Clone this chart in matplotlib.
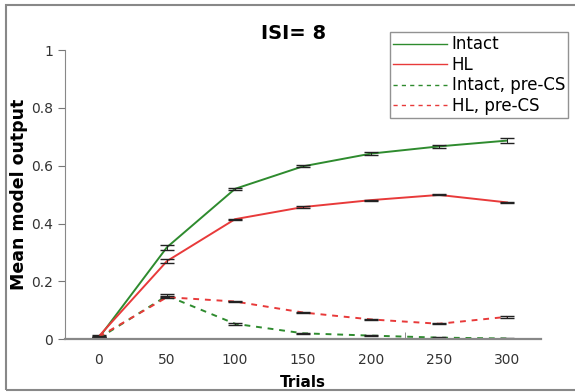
import numpy as np
import matplotlib
matplotlib.use("Agg")
import matplotlib.pyplot as plt
from matplotlib.patches import Rectangle

trials = [0, 50, 100, 150, 200, 250, 300]

intact = [0.005, 0.318, 0.520, 0.598, 0.642, 0.667, 0.687]
intact_err = [0.003, 0.008, 0.004, 0.004, 0.006, 0.006, 0.010]
hl = [0.010, 0.270, 0.415, 0.457, 0.481, 0.499, 0.473]
hl_err = [0.003, 0.008, 0.002, 0.002, 0.002, 0.002, 0.003]
intact_pre = [0.003, 0.150, 0.053, 0.020, 0.012, 0.005, 0.002]
intact_pre_err = [0.002, 0.006, 0.003, 0.002, 0.002, 0.002, 0.002]
hl_pre = [0.008, 0.145, 0.130, 0.092, 0.068, 0.053, 0.077]
hl_pre_err = [0.002, 0.004, 0.002, 0.002, 0.002, 0.002, 0.003]

green = "#2e8b2e"
red = "#e83a3a"

fig = plt.figure(figsize=(5.75, 3.92), dpi=100)
ax = fig.add_axes([0.113, 0.135, 0.828, 0.737])

x = np.arange(len(trials))
series = [
    (intact, intact_err, green, "-", "Intact"),
    (hl, hl_err, red, "-", "HL"),
    (intact_pre, intact_pre_err, green, (0, (3, 3)), "Intact, pre-CS"),
    (hl_pre, hl_pre_err, red, (0, (3, 3)), "HL, pre-CS"),
]
for vals, err, col, ls, lab in series:
    ax.plot(x, vals, color=col, linestyle=ls, linewidth=1.4, label=lab)
    ax.errorbar(x, vals, yerr=err, fmt="none", ecolor="#222222",
                elinewidth=0.7, capsize=5, capthick=1.0)

ax.set_xlim(-0.5, len(trials) - 0.5)
ax.set_ylim(0, 1)
ax.set_xticks(x)
ax.set_xticklabels([str(t) for t in trials])
ax.set_xticks([-0.5, 4.5], minor=True)
ax.tick_params(axis="x", which="major", length=0, pad=10, labelsize=10, labelcolor="#333333")
ax.tick_params(axis="x", which="minor", length=5, direction="in", color="#777777")
ax.set_yticks([0, 0.2, 0.4, 0.6, 0.8, 1.0])
ax.set_yticklabels(["0", "0.2", "0.4", "0.6", "0.8", "1"])
ax.tick_params(axis="y", length=5, color="#777777", labelsize=10, labelcolor="#333333")

for s in ["top", "right"]:
    ax.spines[s].set_visible(False)
ax.spines["left"].set_color("#888888")
ax.spines["bottom"].set_color("#888888")
ax.spines["bottom"].set_linewidth(1.6)

ax.set_xlabel("Trials", fontsize=11, fontweight="bold", labelpad=6)
ax.set_ylabel("Mean model output", fontsize=12.5, fontweight="bold")
ax.yaxis.set_label_coords(-0.077, 0.5)
fig.text(0.51, 0.915, "ISI= 8", fontsize=14, fontweight="bold", ha="center", va="center")

leg = ax.legend(loc="upper left", bbox_to_anchor=(0.678, 0.918),
                bbox_transform=fig.transFigure, fontsize=12, frameon=True,
                fancybox=False, borderpad=0.2, handlelength=3.2,
                handletextpad=0.3, labelspacing=0.15, borderaxespad=0)
leg.get_frame().set_edgecolor("#777777")
leg.get_frame().set_linewidth(1.0)
for h in leg.get_lines():
    h.set_linewidth(1.0)

fig.patches.append(Rectangle((6 / 575, 2 / 392), 1.2, 1 - 7 / 392,
                             transform=fig.transFigure, fill=False,
                             edgecolor="#888888", linewidth=1.5))

fig.savefig("out.png", dpi=100)
